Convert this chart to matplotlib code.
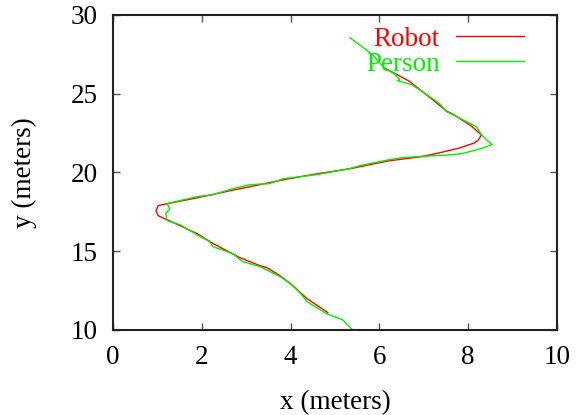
import matplotlib
matplotlib.use("Agg")
import matplotlib.pyplot as plt

# robot path (meters)
robot_x = [6.12, 6.67, 7.24, 7.51, 7.65, 8.07, 8.25, 8.30, 8.23, 8.14, 7.80, 7.35, 6.90,
           6.22, 5.33, 4.59, 3.83, 3.08, 2.64, 1.90, 1.22, 1.02, 0.97, 1.02, 1.22, 1.90,
           2.26, 2.86, 3.31, 3.47, 3.76, 4.05, 4.37, 4.84]
robot_y = [26.63, 25.80, 24.53, 23.90, 23.71, 22.95, 22.50, 22.38, 22.06, 21.87, 21.55,
           21.24, 20.98, 20.74, 20.23, 19.91, 19.53, 19.09, 18.84, 18.39, 18.01, 17.89,
           17.57, 17.25, 17.00, 16.11, 15.48, 14.59, 14.08, 13.95, 13.45, 12.81, 11.99, 11.10]

# person path (meters)
person_x = [5.34, 5.85, 6.12, 6.34, 6.46, 6.41, 6.73, 6.97, 7.29, 7.40, 7.51, 7.65, 8.18,
            8.30, 8.41, 8.54, 8.30, 7.87, 7.65, 6.90, 6.52, 6.23, 5.56, 5.33, 4.59, 3.83,
            3.53, 3.08, 2.70, 2.25, 1.89, 1.22, 1.28, 1.19, 1.22, 1.51, 1.89, 2.18, 2.25,
            2.70, 2.92, 3.31, 3.76, 4.03, 4.25, 4.37, 4.81, 5.17, 5.37]
person_y = [28.55, 27.48, 26.59, 26.27, 25.89, 25.83, 25.57, 25.13, 24.50, 24.24, 23.86,
            23.67, 22.91, 22.40, 22.08, 21.77, 21.52, 21.20, 21.13, 21.01, 20.94, 20.81,
            20.43, 20.24, 19.86, 19.60, 19.29, 19.22, 18.97, 18.59, 18.46, 18.02, 17.70,
            17.38, 16.94, 16.68, 16.05, 15.60, 15.29, 14.84, 14.34, 14.02, 13.39, 12.88,
            12.24, 11.80, 11.03, 10.65, 10.08]

plt.rcParams['font.family'] = ['Liberation Serif', 'DejaVu Serif']

fig = plt.figure(figsize=(5.76, 4.15), dpi=100)
ax = fig.add_axes([0.196, 0.205, 0.771, 0.759])

ax.plot(robot_x, robot_y, color='#ff0000', lw=1.0, label='Robot')
ax.plot(person_x, person_y, color='#00ee00', lw=1.0, label='Person')

ax.set_xlim(0, 10)
ax.set_ylim(10, 30)
ax.set_xticks([0, 2, 4, 6, 8, 10])
ax.set_yticks([10, 15, 20, 25, 30])
ax.tick_params(direction='in', length=5, width=1, top=True, right=True,
               labelsize=19.5, pad=11, color='#555555')
for s in ax.spines.values():
    s.set_linewidth(1.5)
    s.set_color('#222222')

ax.set_xlabel('x (meters)', fontsize=19.5, labelpad=14)
ax.set_ylabel('y (meters)', fontsize=19.5, labelpad=24)

leg = ax.legend(loc='upper right', bbox_to_anchor=(0.925, 0.962), frameon=False,
                markerfirst=False, fontsize=19.5, handlelength=2.5, labelspacing=0.0,
                borderaxespad=0, borderpad=0, handletextpad=0.6, labelcolor='linecolor')

fig.savefig('out.png', dpi=100)
